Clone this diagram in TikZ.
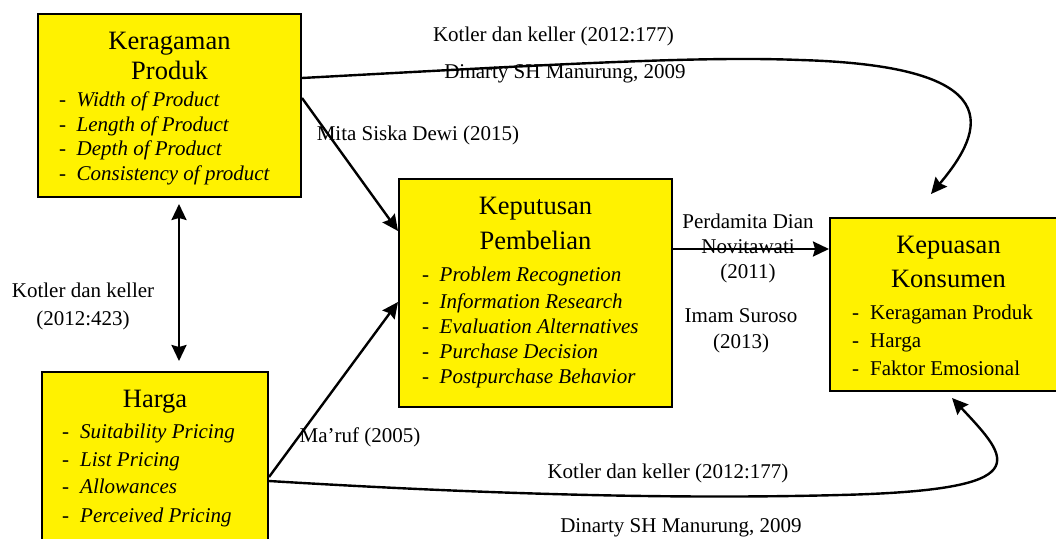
\documentclass[tikz,border=0pt]{standalone}
\usepackage{fontspec}
\setmainfont{Liberation Serif}
\usetikzlibrary{arrows.meta,calc}

\tikzset{
  kotak/.style={draw, fill=yellow, line width=2pt, inner sep=0pt},
  judul/.style={anchor=base, inner sep=0pt, font=\fontsize{26.5}{30}\selectfont},
  butir/.style={anchor=base west, inner sep=0pt, font=\fontsize{21}{25}\selectfont},
  ket/.style={anchor=base, inner sep=0pt, font=\fontsize{21}{25}\selectfont},
  panah/.style={line width=2.4pt, -{Stealth[length=16pt,width=15pt,inset=2pt]}},
}

\begin{document}
\begin{tikzpicture}[x=1pt,y=-1pt]
\useasboundingbox (0,0) rectangle (1056,538);

% kotak variabel
\node[kotak, minimum width=263pt, minimum height=183pt] (kp) at (169.5,105.5) {};
\node[kotak, minimum width=226pt, minimum height=173pt] (hg) at (155,458.5) {};
\node[kotak, minimum width=273pt, minimum height=228pt] (kep) at (535.5,293) {};
\node[kotak, minimum width=237pt, minimum height=173pt] (kps) at (948.5,304.5) {};

% judul
\node[judul] (kp-j1) at (169.5,49) {Keragaman};
\node[judul] (kp-j2) at (169.5,79) {Produk};
\node[judul] (hg-j) at (155,407) {Harga};
\node[judul] (kep-j1) at (535.5,214) {Keputusan};
\node[judul] (kep-j2) at (535.5,249) {Pembelian};
\node[judul] (kps-j1) at (948.5,253) {Kepuasan};
\node[judul] (kps-j2) at (948.5,287) {Konsumen};

% butir indikator
\foreach \y/\t [count=\i] in {106/Width of Product,131/Length of Product,155/Depth of Product,180/Consistency of product}
  \node[butir] (kp-\i) at (59,\y) {\makebox[17.5pt][l]{-}\textit{\t}};
\foreach \y/\t [count=\i] in {438/Suitability Pricing,466/List Pricing,493/Allowances,522/Perceived Pricing}
  \node[butir] (hg-\i) at (62,\y) {\makebox[18pt][l]{-}\textit{\t}};
\foreach \y/\t [count=\i] in {281/Problem Recognetion,308/Information Research,333/Evaluation Alternatives,358/Purchase Decision,383/Postpurchase Behavior}
  \node[butir] (kep-\i) at (422,\y) {\makebox[17.5pt][l]{-}\textit{\t}};
\foreach \y/\t [count=\i] in {319/Keragaman Produk,347/Harga,375/Faktor Emosional}
  \node[butir] (kps-\i) at (852,\y) {\makebox[18pt][l]{-}\t};

% keterangan sumber
\node[ket] (ket-a) at (553.5,41) {Kotler dan keller (2012:177)};
\node[ket] (ket-b) at (565,78) {Dinarty SH Manurung, 2009};
\node[ket] (ket-c) at (418,140) {Mita Siska Dewi (2015)};
\node[ket] (ket-d1) at (748,228) {Perdamita Dian};
\node[ket] (ket-d2) at (748,253) {Novitawati};
\node[ket] (ket-d3) at (748,278) {(2011)};
\node[ket] (ket-e1) at (741,322) {Imam Suroso};
\node[ket] (ket-e2) at (741,348) {(2013)};
\node[ket] (ket-f1) at (83,297) {Kotler dan keller};
\node[ket] (ket-f2) at (83,325) {(2012:423)};
\node[ket] (ket-g) at (360,442) {Ma’ruf (2005)};
\node[ket] (ket-h) at (668,478) {Kotler dan keller (2012:177)};
\node[ket] (ket-i) at (681,532) {Dinarty SH Manurung, 2009};

% hubungan
\draw[panah] ($(kp.north east)+(0,65)$) .. controls (560,64) and (700,56) .. (800,60)
  .. controls (1010,66) and (985,130) .. ($(kps.north west)+(102,-23)$);
\draw[panah] ($(kp.north east)+(0,85)$) -- ($(kep.north west)+(0,53)$);
\draw[panah] ($(hg.north east)+(0,106)$) -- ($(kep.north west)+(0,124)$);
\draw[panah] ($(hg.north east)+(0,110)$) .. controls (450,492) and (650,500) .. (840,495)
  .. controls (1040,490) and (1010,460) .. ($(kps.south west)+(123,6)$);
\draw[panah] ($(kep.north east)+(0,71)$) -- ($(kps.north west)+(0,32)$);
\draw[panah, {Stealth[length=16pt,width=15pt,inset=2pt]}-{Stealth[length=16pt,width=15pt,inset=2pt]}] ($(kp.south west)+(142,6)$) -- ($(hg.north west)+(138,-10)$);
\end{tikzpicture}
\end{document}
